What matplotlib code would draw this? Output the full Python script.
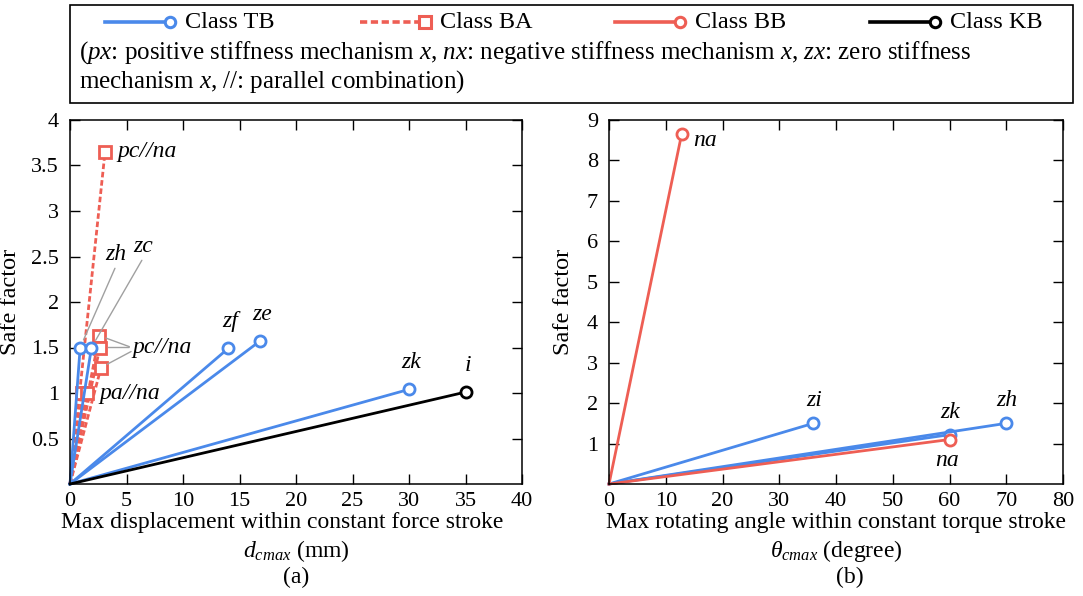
import matplotlib
matplotlib.use('Agg')
import matplotlib.pyplot as plt
import matplotlib.patches as mpatches
from matplotlib.lines import Line2D

plt.rcParams['font.family'] = ['Liberation Serif', 'DejaVu Serif']
plt.rcParams['mathtext.fontset'] = 'custom'
plt.rcParams['mathtext.rm'] = 'Liberation Serif'
plt.rcParams['mathtext.it'] = 'Liberation Serif:italic'

BLUE = '#4a89ea'
RED = '#ee5e54'

# (a) displacement data
tb_a_x = [0.9, 1.9, 14.0, 16.8, 30.0]
tb_a_y = [1.5, 1.5, 1.49, 1.57, 1.04]
tb_a_lab = ['zh', 'zc', 'zf', 'ze', 'zk']
ba_a_x = [3.1, 2.6, 2.65, 2.75, 1.1, 1.5]
ba_a_y = [3.65, 1.63, 1.5, 1.28, 1.0, 1.0]
kb_a_x = [35.0]
kb_a_y = [1.01]

# (b) rotation data
tb_b_x = [36.0, 60.0, 70.0]
tb_b_y = [1.5, 1.22, 1.5]
tb_b_lab = ['zi', 'zk', 'zh']
bb_b_x = [12.8, 60.0]
bb_b_y = [8.65, 1.1]

a_xticks = [0, 5, 10, 15, 20, 25, 30, 35, 40]
a_yticks = [0.5, 1, 1.5, 2, 2.5, 3, 3.5, 4]
b_xticks = [0, 10, 20, 30, 40, 50, 60, 70, 80]
b_yticks = [1, 2, 3, 4, 5, 6, 7, 8, 9]

classes = ['Class TB', 'Class BA', 'Class BB', 'Class KB']

LW = 2.0
FS = 17


def ray(ax, x, y, color, ls='-', marker='o', ms=8):
    ax.plot([0, x], [0, y], color=color, ls=ls, lw=LW, marker=marker, markevery=[1],
            ms=ms, mfc='white', mec=color, mew=2.0, clip_on=False)


def style(ax):
    ax.tick_params(direction='in', top=True, right=True, length=7, width=1,
                   labelsize=16, pad=6)
    ax.tick_params(axis='y', pad=8)
    for s in ax.spines.values():
        s.set_linewidth(1.1)


W, H = 1083, 596
fig = plt.figure(figsize=(W / 100, H / 100), dpi=100)
ax1 = fig.add_axes([70 / W, 112 / H, 452 / W, 364 / H])
ax2 = fig.add_axes([609 / W, 112 / H, 454 / W, 364 / H])

it = dict(fontsize=FS, style='italic')
lead = dict(arrowstyle='-', color='#a0a0a0', lw=1.0, shrinkA=0, shrinkB=6)
dash = (0, (2.0, 1.0))

# ---- panel (a)
for x, y in zip(ba_a_x, ba_a_y):
    ray(ax1, x, y, RED, ls=dash, marker='s', ms=8.5)
for x, y in zip(tb_a_x, tb_a_y):
    ray(ax1, x, y, BLUE)
for x, y in zip(kb_a_x, kb_a_y):
    ray(ax1, x, y, 'black')

for x, y, lab in zip(tb_a_x[2:], tb_a_y[2:], tb_a_lab[2:]):
    ax1.annotate(lab, (x, y), xytext=(2, 16), textcoords='offset pixels',
                 ha='center', va='bottom', **it)
ax1.annotate('i', (kb_a_x[0], kb_a_y[0]), xytext=(2, 16), textcoords='offset pixels',
             ha='center', va='bottom', **it)
ax1.annotate('zh', (tb_a_x[0], tb_a_y[0]), xytext=(36, 82), textcoords='offset pixels',
             ha='center', va='bottom', arrowprops=dict(lead, relpos=(0.5, 0)), **it)
ax1.annotate('zc', (tb_a_x[1], tb_a_y[1]), xytext=(52, 90), textcoords='offset pixels',
             ha='center', va='bottom', arrowprops=dict(lead, relpos=(0.5, 0)), **it)
ax1.annotate('pc//na', (ba_a_x[0], ba_a_y[0]), xytext=(12, 0), textcoords='offset pixels',
             ha='left', va='center', **it)
ax1.annotate('pc//na', (ba_a_x[2], ba_a_y[2]), xytext=(32, 0), textcoords='offset pixels',
             ha='left', va='center', arrowprops=dict(lead, relpos=(0, 0.5)), **it)
for x, y, dy in zip(ba_a_x[1:4:2], ba_a_y[1:4:2], [-11, 16]):
    ax1.annotate('', (x, y), xytext=(30, dy), textcoords='offset pixels',
                 arrowprops=dict(lead, shrinkB=5))
ax1.annotate('pa//na', (ba_a_x[5], ba_a_y[5]), xytext=(12, 0), textcoords='offset pixels',
             ha='left', va='center', **it)

ax1.set_xlim(0, 40)
ax1.set_ylim(0, 4)
ax1.set_xticks(a_xticks)
ax1.set_yticks(a_yticks)
ax1.set_yticklabels(['0.5', '1', '1.5', '2', '2.5', '3', '3.5', '4'])
style(ax1)
ax1.set_ylabel('Safe factor', fontsize=FS + 0.5, labelpad=7)
ax1.text(0.47, -0.107, 'Max displacement within constant force stroke', transform=ax1.transAxes,
         ha='center', va='center', fontsize=FS)
ax1.text(0.5, -0.185, r'$d_{cmax}$ (mm)', transform=ax1.transAxes,
         ha='center', va='center', fontsize=FS)
ax1.text(0.5, -0.258, '(a)', transform=ax1.transAxes, ha='center', va='center', fontsize=FS)

# ---- panel (b)
for x, y in zip(tb_b_x, tb_b_y):
    ray(ax2, x, y, BLUE)
for x, y in zip(bb_b_x, bb_b_y):
    ray(ax2, x, y, RED)

for x, y, lab in zip(tb_b_x, tb_b_y, tb_b_lab):
    ax2.annotate(lab, (x, y), xytext=(1, 12), textcoords='offset pixels',
                 ha='center', va='bottom', **it)
ax2.annotate('na', (bb_b_x[0], bb_b_y[0]), xytext=(12, -6), textcoords='offset pixels',
             ha='left', va='center', **it)
ax2.annotate('na', (bb_b_x[1], bb_b_y[1]), xytext=(-2, -10), textcoords='offset pixels',
             ha='center', va='top', **it)

ax2.set_xlim(0, 80)
ax2.set_ylim(0, 9)
ax2.set_xticks(b_xticks)
ax2.set_yticks(b_yticks)
style(ax2)
ax2.set_ylabel('Safe factor', fontsize=FS + 0.5, labelpad=9)
ax2.text(0.5, -0.107, 'Max rotating angle within constant torque stroke', transform=ax2.transAxes,
         ha='center', va='center', fontsize=FS)
ax2.text(0.5, -0.185, r'$\theta_{cmax}$ (degree)', transform=ax2.transAxes,
         ha='center', va='center', fontsize=FS)
ax2.text(0.53, -0.258, '(b)', transform=ax2.transAxes, ha='center', va='center', fontsize=FS)

# ---- legend box on top
fig.add_artist(mpatches.Rectangle((70 / W, 1 - 103 / H), 1003 / W, 98 / H, fill=False,
                                  lw=1.2, ec='black', transform=fig.transFigure))
styles = [(BLUE, '-', 'o'), (RED, dash, 's'), (RED, '-', 'o'), ('black', '-', 'o')]
ly = 1 - 22 / H
for k, (name, (c, ls, m)) in enumerate(zip(classes, styles)):
    x0 = (105 + 255 * k) / W
    x1 = (170 + 255 * k) / W
    fig.add_artist(Line2D([x0, x1], [ly, ly], color=c, ls=ls, lw=2.6, transform=fig.transFigure))
    fig.add_artist(Line2D([x1], [ly], color=c, marker=m, ms=7.5 if m == 'o' else 8, mfc='white',
                          mec=c, mew=2.2, transform=fig.transFigure))
    fig.text((185 + 255 * k) / W, ly, name, ha='left', va='center', fontsize=17.5)

fig.text(79 / W, 1 - 53 / H,
         r'($px$: positive stiffness mechanism $x$, $nx$: negative stiffness mechanism $x$, '
         r'$zx$: zero stiffness', ha='left', va='center', fontsize=18)
fig.text(79 / W, 1 - 82 / H, r'mechanism $x$, $//$: parallel combination)',
         ha='left', va='center', fontsize=18)

fig.savefig('out.png', dpi=100)
